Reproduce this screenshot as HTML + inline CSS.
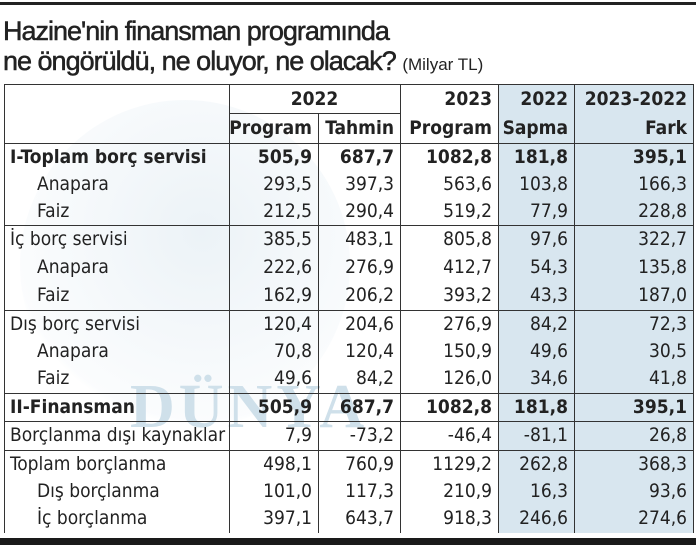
<!DOCTYPE html>
<html><head><meta charset="utf-8"><style>
body{margin:0;width:696px;height:545px;background:#fff;position:relative;overflow:hidden;font-family:"DejaVu Sans Condensed","Liberation Sans",sans-serif;color:#222;}
.a{position:absolute;}
.t{position:absolute;font-size:19px;line-height:20px;white-space:nowrap;}
.r{text-align:right;}
.b{font-weight:bold;}
.hl{position:absolute;height:1px;background:#333;}
.vl{position:absolute;width:1px;background:#333;}
</style></head><body>
<div class="a" style="left:0;top:2px;width:696px;height:3px;background:#222"></div>
<div class="a" style="left:3px;top:16px;font-size:27px;line-height:30px;font-family:'Liberation Sans',sans-serif;letter-spacing:-1px;color:#222;-webkit-text-stroke:0.5px #222">Hazine'nin finansman programında<br>ne öngörüldü, ne oluyor, ne olacak? <span style="font-size:17px;letter-spacing:0;-webkit-text-stroke:0">(Milyar TL)</span></div>
<div class="a" style="left:498px;top:84px;width:195px;height:449px;background:#d8e6ef"></div>
<div class="a" style="left:20px;top:100px;width:330px;height:330px;border-radius:50%;background:radial-gradient(circle at 55% 40%,rgba(220,232,240,0.55),rgba(235,242,247,0.2) 70%,rgba(255,255,255,0) 72%)"></div>
<div class="a" style="left:130px;top:372px;font-size:62px;font-weight:bold;color:#cfe0ea;font-family:'Liberation Serif',serif;letter-spacing:4px">DÜNYA</div>
<div class="hl" style="left:4px;width:690px;top:84px"></div>
<div class="hl" style="left:229px;width:171px;top:113px"></div>
<div class="hl" style="left:4px;width:690px;top:143px"></div>
<div class="hl" style="left:4px;width:690px;top:225px"></div>
<div class="hl" style="left:4px;width:690px;top:310px"></div>
<div class="hl" style="left:4px;width:690px;top:393px"></div>
<div class="hl" style="left:4px;width:690px;top:421px"></div>
<div class="hl" style="left:4px;width:690px;top:450px"></div>
<div class="vl" style="left:4px;top:84px;height:449px"></div>
<div class="vl" style="left:229px;top:84px;height:449px"></div>
<div class="vl" style="left:318px;top:113px;height:420px"></div>
<div class="vl" style="left:400px;top:84px;height:449px"></div>
<div class="vl" style="left:498px;top:84px;height:449px"></div>
<div class="vl" style="left:574px;top:84px;height:449px"></div>
<div class="vl" style="left:693px;top:84px;height:449px"></div>
<div class="a" style="left:0;top:538px;width:696px;height:7px;background:#1a1a1a"></div>
<div class="t b" style="left:229px;width:171px;top:89px;text-align:center">2022</div>
<div id="c"></div>
<script>
var cols=[[229,318],[318,400],[400,498],[498,574],[574,693]];
var h=document.getElementById('c'),s='';
function cell(x1,x2,y,txt,b){s+='<div class="t r'+(b?' b':'')+'" style="left:'+x1+'px;width:'+(x2-x1-6)+'px;top:'+y+'px">'+txt+'</div>';}
cell(400,498,89,'2023',1);cell(498,574,89,'2022',1);cell(574,693,89,'2023-2022',1);
cell(229,318,118,'Program',1);cell(318,400,118,'Tahmin',1);cell(400,498,118,'Program',1);cell(498,574,118,'Sapma',1);cell(574,693,118,'Fark',1);
var rows=[
['I-Toplam borç servisi',0,1,['505,9','687,7','1082,8','181,8','395,1']],
['Anapara',1,0,['293,5','397,3','563,6','103,8','166,3']],
['Faiz',1,0,['212,5','290,4','519,2','77,9','228,8']],
['İç borç servisi',0,0,['385,5','483,1','805,8','97,6','322,7']],
['Anapara',1,0,['222,6','276,9','412,7','54,3','135,8']],
['Faiz',1,0,['162,9','206,2','393,2','43,3','187,0']],
['Dış borç servisi',0,0,['120,4','204,6','276,9','84,2','72,3']],
['Anapara',1,0,['70,8','120,4','150,9','49,6','30,5']],
['Faiz',1,0,['49,6','84,2','126,0','34,6','41,8']],
['II-Finansman',0,1,['505,9','687,7','1082,8','181,8','395,1']],
['Borçlanma dışı kaynaklar',0,0,['7,9','-73,2','-46,4','-81,1','26,8']],
['Toplam borçlanma',0,0,['498,1','760,9','1129,2','262,8','368,3']],
['Dış borçlanma',1,0,['101,0','117,3','210,9','16,3','93,6']],
['İç borçlanma',1,0,['397,1','643,7','918,3','246,6','274,6']]];
var ys=[147,174,201,229,257,285,314,341,368,397,425,454,481,508];
rows.forEach(function(r,i){var y=ys[i];
s+='<div class="t'+(r[2]?' b':'')+'" style="left:'+(r[1]?37:10)+'px;top:'+y+'px">'+r[0]+'</div>';
r[3].forEach(function(v,j){cell(cols[j][0],cols[j][1],y,v,r[2]);});});
h.innerHTML=s;
</script>
</body></html>
